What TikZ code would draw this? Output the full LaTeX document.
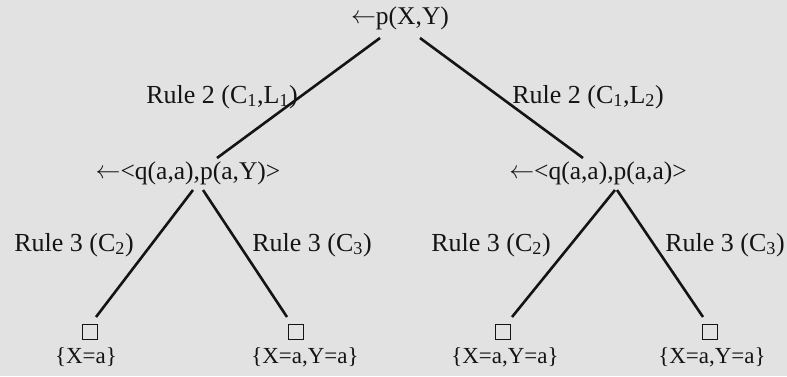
\documentclass[tikz,border=0pt]{standalone}
\usepackage{fontspec}
\setmainfont{Liberation Serif}
\usepackage{tikz}
\usetikzlibrary{calc}
\definecolor{scan}{HTML}{E2E2E2}
\definecolor{ink}{HTML}{141414}
\newcommand{\goalarrow}{\raisebox{0.5pt}{$\leftarrow$}}
\tikzset{
  goal/.style={inner sep=1pt,font=\fontsize{25.5}{29}\selectfont,text=ink},
  rulelbl/.style={inner sep=1pt,font=\fontsize{26}{30}\selectfont,text=ink},
  answer/.style={inner sep=1pt,font=\fontsize{23}{27}\selectfont,text=ink},
  emptybox/.style={draw=ink,line width=1.1pt,minimum size=15pt,inner sep=0pt},
  edge/.style={draw=ink,line width=2.6pt}
}
\begin{document}
\begin{tikzpicture}[x=1pt,y=-1pt]
    \path[use as bounding box,fill=scan] (0,0) rectangle (787,376);

    % goals
    \node[goal] (root) at (400,18) {\goalarrow p(X,Y)};
    \node[goal] (qL) at (188,173) {\goalarrow<q(a,a),p(a,Y)>};
    \node[goal] (qR) at (598,173) {\goalarrow<q(a,a),p(a,a)>};

    % empty clauses
    \node[emptybox] (b1) at (90,332) {};
    \node[emptybox] (b2) at (296,332) {};
    \node[emptybox] (b3) at (503,332) {};
    \node[emptybox] (b4) at (710,332) {};

    \node[answer] (a1) at (86,357) {\{X=a\}};
    \node[answer] (a2) at (305,357) {\{X=a,Y=a\}};
    \node[answer] (a3) at (505,357) {\{X=a,Y=a\}};
    \node[answer] (a4) at (712,357) {\{X=a,Y=a\}};

    % rule labels
    \node[rulelbl] (r21) at (222,97) {Rule 2 (C\textsubscript{1},L\textsubscript{1})};
    \node[rulelbl] (r22) at (588,97) {Rule 2 (C\textsubscript{1},L\textsubscript{2})};
    \node[rulelbl] (r31) at (74,245) {Rule 3 (C\textsubscript{2})};
    \node[rulelbl] (r32) at (312,245) {Rule 3 (C\textsubscript{3})};
    \node[rulelbl] (r33) at (491,245) {Rule 3 (C\textsubscript{2})};
    \node[rulelbl] (r34) at (725,245) {Rule 3 (C\textsubscript{3})};

    \draw[edge] ($(root)+(-20,20)$) -- ($(qL)+(29,-15)$);
    \draw[edge] ($(root)+(20,20)$) -- ($(qR)+(-15,-15)$);
    \draw[edge] ($(qL)+(5,17)$) -- ($(b1)+(6,-15)$);
    \draw[edge] ($(qL)+(15,17)$) -- ($(b2)+(-9,-15)$);
    \draw[edge] ($(qR)+(17,17)$) -- ($(b3)+(9,-15)$);
    \draw[edge] ($(qR)+(19,17)$) -- ($(b4)+(-7,-15)$);
  \end{tikzpicture}
\end{document}
